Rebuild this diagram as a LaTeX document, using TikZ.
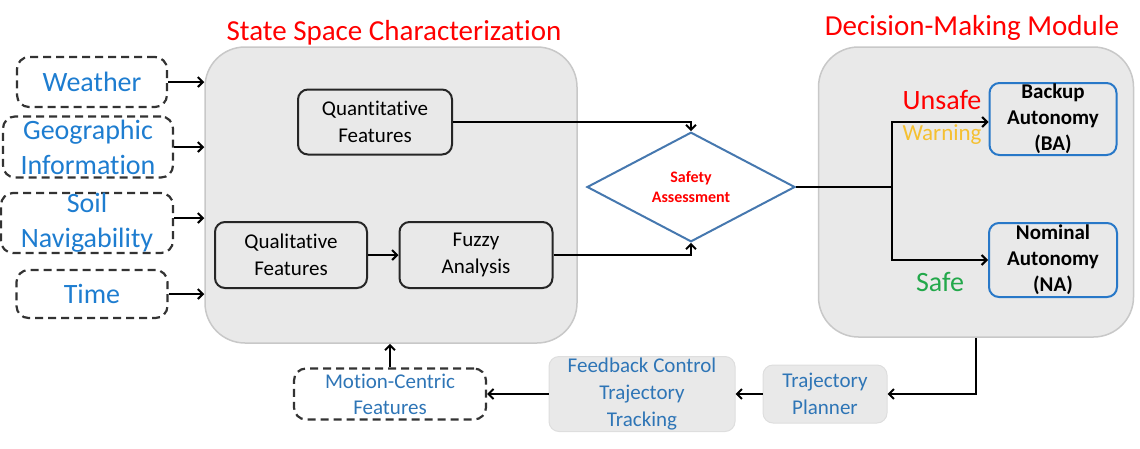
\documentclass[tikz,border=0pt]{standalone}
\usepackage{fontspec}
\setmainfont{Carlito}[Ligatures=NoCommon]
\usetikzlibrary{shapes.geometric,positioning,arrows.meta}
\definecolor{inblue}{RGB}{30,125,208}
\definecolor{lowblue}{RGB}{46,117,182}
\definecolor{boxblue}{RGB}{40,120,200}
\definecolor{diablue}{RGB}{70,120,175}
\definecolor{panelgray}{RGB}{233,233,233}
\definecolor{panelline}{RGB}{200,200,200}
\definecolor{warnyellow}{RGB}{245,192,48}
\definecolor{safegreen}{RGB}{34,168,74}
\tikzset{
    inputbox/.style={draw=black!80, line width=2.2pt, dash pattern=on 8pt off 5pt, rounded corners=12pt, inner sep=0pt, align=center, text=inblue, font=\fontsize{28}{35}\selectfont},
    panel/.style={fill=panelgray, draw=panelline, line width=1.5pt, rounded corners=40pt, inner sep=0pt},
    feature/.style={draw=black!85, line width=2pt, rounded corners=10pt, inner sep=0pt, align=center, font=\fontsize{21}{27}\selectfont},
    mode/.style={draw=boxblue, line width=2pt, rounded corners=10pt, inner sep=0pt, align=center, font=\bfseries\fontsize{21}{26}\selectfont},
    loopbox/.style={fill=panelgray, draw=panelline!60!white, line width=1pt, rounded corners=10pt, inner sep=0pt, align=center, text=lowblue, font=\fontsize{21}{27}\selectfont},
    title/.style={text=red, font=\fontsize{29}{34}\selectfont},
    link/.style={line width=2pt, -{Straight Barb[length=5pt, width=10pt]}},
}
\begin{document}
\begin{tikzpicture}[x=1pt, y=-1pt]
    \useasboundingbox (0, 0) rectangle (1140, 448);
    \node[panel, minimum width=372pt, minimum height=296pt] (ssc) at (391, 195) {};
    \node[panel, minimum width=315pt, minimum height=290pt] (dmm) at (976, 192) {};
    \node[title] (ssctitle) at (394, 33) {State Space Characterization};
    \node[title] (dmmtitle) at (972, 28) {Decision-Making Module};
    \node[inputbox, minimum width=150pt, minimum height=50pt] (weather) at (92, 82) {Weather};
    \node[inputbox, minimum width=170pt, minimum height=61pt] (geo) at (88, 147) {Geographic\\Information};
    \node[inputbox, minimum width=172pt, minimum height=60pt] (soil) at (87, 223) {Soil\\Navigability};
    \node[inputbox, minimum width=151pt, minimum height=48pt] (time) at (92, 294) {Time};
    \node[feature, minimum width=154pt, minimum height=65pt] (quant) at (375, 122) {Quantitative\\Features};
    \node[feature, minimum width=152pt, minimum height=66pt] (qual) at (291, 255) {Qualitative\\Features};
    \node[feature, minimum width=153pt, minimum height=66pt] (fuzzy) at (476, 255) {Fuzzy\\Analysis};
    \node[diamond, draw=diablue, line width=2pt, fill=white, minimum width=208pt, minimum height=80pt, inner sep=0pt, align=center, text=red, font=\bfseries\fontsize{16}{20}\selectfont] (safety) at (691, 187) {Safety\\Assessment};
    \node[mode, minimum width=127pt, minimum height=72pt] (ba) at (1053, 119) {Backup\\Autonomy\\(BA)};
    \node[mode, minimum width=128pt, minimum height=74pt] (na) at (1053, 260) {Nominal\\Autonomy\\(NA)};
    \node[text=red, font=\fontsize{28}{34}\selectfont] (unsafe) at (942, 100) {Unsafe};
    \node[text=warnyellow, font=\fontsize{23}{28}\selectfont] (warning) at (942, 135) {Warning};
    \node[text=safegreen, font=\fontsize{28}{34}\selectfont] (safe) at (940, 282) {Safe};
    \node[inputbox, text=lowblue, font=\fontsize{21}{26}\selectfont, minimum width=192pt, minimum height=51pt] (motion) at (390, 394) {Motion-Centric\\Features};
    \node[loopbox, minimum width=186pt, minimum height=75pt] (feedback) at (642, 394) {Feedback Control\\Trajectory\\Tracking};
    \node[loopbox, minimum width=124pt, minimum height=58pt] (planner) at (825, 394) {Trajectory\\Planner};
    \coordinate (split) at (892, 187);
    \draw[link] (weather.east) -- (weather.east -| ssc.west);
    \draw[link] (geo.east) -- (geo.east -| ssc.west);
    \draw[link] ([yshift=5pt]soil.east) -- ([yshift=5pt]soil.east -| ssc.west);
    \draw[link] (time.east) -- (time.east -| ssc.west);
    \draw[link] (qual) -- (fuzzy);
    \draw[link] (quant.east) -| (safety.north);
    \draw[link] (fuzzy.east) -| (safety.south);
    \draw[line width=2pt] (safety.east) -- (split);
    \draw[link] (split) |- ([yshift=-3pt]ba.west);
    \draw[link] (split) |- (na.west);
    \draw[link] (dmm.south) |- (planner.east);
    \draw[link] (planner) -- (feedback);
    \draw[link] (feedback) -- (motion);
    \draw[link] (motion.north) -- (motion.north |- ssc.south);
\end{tikzpicture}
\end{document}
